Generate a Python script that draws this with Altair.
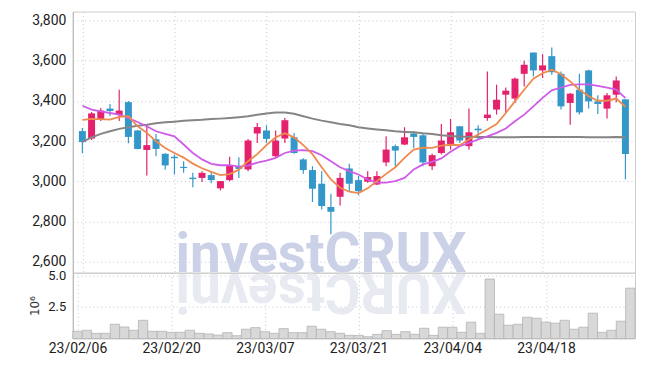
import altair as alt
import pandas as pd

# ---------------- data ----------------
dates = [
    "23/02/06", "23/02/07", "23/02/08", "23/02/09", "23/02/10",
    "23/02/13", "23/02/14", "23/02/15", "23/02/16", "23/02/17",
    "23/02/20", "23/02/21", "23/02/22", "23/02/23", "23/02/24",
    "23/02/27", "23/02/28", "23/03/02", "23/03/03", "23/03/06",
    "23/03/07", "23/03/08", "23/03/09", "23/03/10", "23/03/13",
    "23/03/14", "23/03/15", "23/03/16", "23/03/17", "23/03/20",
    "23/03/21", "23/03/22", "23/03/23", "23/03/24", "23/03/27",
    "23/03/28", "23/03/29", "23/03/30", "23/03/31", "23/04/03",
    "23/04/04", "23/04/05", "23/04/06", "23/04/07", "23/04/10",
    "23/04/11", "23/04/12", "23/04/13", "23/04/14", "23/04/17",
    "23/04/18", "23/04/19", "23/04/20", "23/04/21", "23/04/24",
    "23/04/25", "23/04/26", "23/04/27", "23/04/28", "23/05/02",
]
opens = [3250, 3213, 3307, 3362, 3330, 3394, 3253, 3156, 3209, 3137,
         3122, 3072, 3018, 3017, 3031, 2965, 3006, 3074, 3059, 3238,
         3253, 3125, 3213, 3219, 3109, 3056, 2988, 2872, 2923, 3064,
         3006, 2998, 2984, 3094, 3175, 3183, 3238, 3229, 3075, 3141,
         3180, 3274, 3175, 3262, 3315, 3357, 3431, 3412, 3535, 3641,
         3552, 3623, 3535, 3390, 3456, 3552, 3398, 3362, 3431, 3408]
highs = [3265, 3345, 3365, 3385, 3456, 3400, 3255, 3282, 3236, 3140,
         3133, 3100, 3042, 3050, 3050, 3001, 3122, 3120, 3210, 3290,
         3279, 3253, 3315, 3241, 3115, 3075, 3050, 2938, 3042, 3087,
         3026, 3050, 3050, 3224, 3183, 3269, 3249, 3235, 3137, 3285,
         3310, 3274, 3362, 3279, 3547, 3481, 3467, 3517, 3600, 3641,
         3633, 3666, 3547, 3440, 3535, 3555, 3428, 3440, 3522, 3408]
lows = [3140, 3205, 3300, 3325, 3300, 3190, 3160, 3029, 3125, 3059,
        3034, 3042, 2971, 2996, 2990, 2955, 3000, 3017, 3050, 3191,
        3191, 3117, 3191, 3137, 3037, 2897, 2860, 2736, 2880, 2951,
        2931, 2993, 2981, 3075, 3075, 3180, 3166, 3075, 3056, 3133,
        3158, 3191, 3158, 3208, 3302, 3332, 3340, 3390, 3472, 3522,
        3514, 3530, 3357, 3282, 3332, 3362, 3335, 3312, 3394, 3010]
closes = [3195, 3338, 3352, 3350, 3352, 3221, 3161, 3180, 3161, 3079,
          3115, 3066, 3011, 3042, 3006, 3001, 3080, 3062, 3203, 3270,
          3211, 3203, 3304, 3141, 3056, 2963, 2877, 2849, 3017, 2988,
          2951, 3021, 3026, 3158, 3153, 3219, 3221, 3094, 3130, 3203,
          3244, 3203, 3244, 3254, 3332, 3406, 3451, 3511, 3580, 3552,
          3577, 3543, 3373, 3436, 3343, 3398, 3385, 3428, 3502, 3136]
volumes = [0.57, 0.65, 0.41, 0.41, 1.13, 0.91, 0.65, 1.44, 0.57, 0.57,
           0.49, 0.49, 0.65, 0.41, 0.36, 0.27, 0.46, 0.22, 0.73, 0.86,
           0.54, 0.41, 0.78, 0.46, 0.46, 0.97, 0.73, 0.54, 0.41, 0.25,
           0.25, 0.14, 0.33, 0.62, 0.33, 0.54, 0.33, 0.81, 0.25, 0.89,
           0.89, 0.49, 1.29, 0.41, 4.70, 1.92, 1.05, 1.13, 1.68, 1.60,
           1.29, 1.21, 1.44, 0.73, 0.89, 2.00, 0.49, 0.65, 1.37, 3.98]
ma5 = [3306, 3311, 3309, 3307, 3321, 3324, 3274, 3241, 3199, 3166,
       3141, 3118, 3088, 3065, 3047, 3031, 3036, 3058, 3100, 3135,
       3180, 3219, 3239, 3219, 3180, 3135, 3070, 3009, 2968, 2948,
       2941, 2965, 3001, 3037, 3070, 3117, 3158, 3167, 3166, 3178,
       3182, 3180, 3208, 3233, 3258, 3285, 3340, 3398, 3456, 3511,
       3538, 3555, 3533, 3497, 3456, 3423, 3401, 3401, 3412, 3371]
ma10 = [3376, 3357, 3348, 3340, 3332, 3315, 3295, 3274, 3249, 3236,
        3224, 3183, 3141, 3109, 3087, 3080, 3080, 3073, 3078, 3093,
        3103, 3117, 3141, 3153, 3155, 3150, 3130, 3100, 3070, 3051,
        3034, 3009, 2993, 2993, 3001, 3017, 3059, 3084, 3097, 3114,
        3147, 3175, 3191, 3208, 3224, 3241, 3263, 3299, 3332, 3373,
        3415, 3453, 3467, 3480, 3482, 3482, 3475, 3466, 3456, 3414]
ma60 = [3196, 3219, 3236, 3249, 3261, 3269, 3277, 3282, 3289, 3294,
        3297, 3301, 3304, 3306, 3310, 3312, 3315, 3319, 3324, 3331,
        3338, 3343, 3343, 3336, 3324, 3312, 3302, 3294, 3285, 3279,
        3269, 3263, 3258, 3254, 3249, 3246, 3244, 3239, 3236, 3229,
        3226, 3223, 3221, 3221, 3220, 3219, 3219, 3219, 3220, 3220,
        3221, 3221, 3221, 3220, 3220, 3219, 3219, 3219, 3220, 3219]

tick_index = [0, 10, 20, 30, 40, 50]
price_ticks = [2600, 2800, 3000, 3200, 3400, 3600, 3800]
volume_ticks = [2.5, 5.0]
volume_title = "10⁶"
watermark = "investCRUX"

UP = "#e3216d"
DOWN = "#3497c9"

df = pd.DataFrame({
    "i": list(range(len(dates))), "date": dates,
    "open": opens, "high": highs, "low": lows, "close": closes,
    "vol": volumes, "ma5": ma5, "ma10": ma10, "ma60": ma60,
})

FONT = "Roboto"

x_scale = alt.Scale(domain=[-0.5, len(dates) - 0.5], nice=False, zero=False)
y_scale = alt.Scale(domain=[2545, 3845], nice=False, zero=False)
label_expr = "[" + ",".join("'" + d + "'" for d in dates) + "][datum.value]"

grid_axis_x = alt.Axis(values=tick_index, labels=False, ticks=False, domain=False,
                       title=None, grid=True, minExtent=0, maxExtent=0)

cond = alt.condition("datum.close >= datum.open", alt.value(UP), alt.value(DOWN))

base = alt.Chart(df).encode(x=alt.X("i:Q", scale=x_scale, axis=grid_axis_x))

wm = alt.Chart(pd.DataFrame({"t": [watermark]})).mark_text(
    font="Roboto", fontWeight="bold", fontSize=55, color="#cbd1e6",
    align="center", baseline="alphabetic"
).encode(text="t:N", x=alt.value(249), y=alt.value(261))

wick = base.mark_rule(strokeWidth=1.2).encode(
    y=alt.Y("low:Q", scale=y_scale,
            axis=alt.Axis(values=price_ticks, format=",d", title=None, ticks=False,
                          labelPadding=7, labelFontSize=14, grid=True)),
    y2="high:Q", color=cond)
body = base.mark_bar(size=7).encode(y="open:Q", y2="close:Q", color=cond)

line60 = base.mark_line(color="#858585", strokeWidth=2).encode(y="ma60:Q")
line10 = base.mark_line(color="#cf5ce9", strokeWidth=1.8).encode(y="ma10:Q")
line5 = base.mark_line(color="#ef8a4e", strokeWidth=1.8).encode(y="ma5:Q")

price = alt.layer(wm, wick, body, line60, line10, line5).properties(width=564, height=262)

refl = alt.Chart(pd.DataFrame({"t": [watermark[::-1]]})).mark_text(
    font="Roboto", fontWeight="bold", fontSize=55, color="#e8eaf2",
    align="center", baseline="alphabetic", angle=180
).encode(text="t:N", x=alt.value(249), y=alt.value(1))

vol = alt.Chart(df).transform_calculate(
    x0="datum.i - 0.5", x1="datum.i + 0.5", z="0"
).mark_bar(fill="#d8d8d8", stroke="#b4b4b4", strokeWidth=0.8).encode(
    x=alt.X("x0:Q", scale=x_scale,
            axis=alt.Axis(values=tick_index, labelExpr=label_expr, grid=True, ticks=False,
                          domain=False, title=None, labelPadding=3, labelFontSize=14)),
    x2="x1:Q",
    y=alt.Y("vol:Q", scale=alt.Scale(domain=[0, 5.2], nice=False),
            axis=alt.Axis(values=volume_ticks, format=".1f", title=volume_title,
                          ticks=False, labelPadding=7, labelFontSize=13,
                          titleFontSize=12, titleFontWeight="normal", titlePadding=6,
                          titleFont="DejaVu Sans", titleColor="#333")),
    y2="z:Q",
)
volume = alt.layer(refl, vol).properties(width=564, height=66)

chart = alt.vconcat(price, volume, spacing=0, bounds="flush").properties(
    padding={"left": 20, "top": 2, "right": 1, "bottom": 0}
).configure_view(stroke="#cccccc").configure_axis(
    gridColor="#c3c6dc", gridDash=[1, 3], gridWidth=1,
    labelFont=FONT, labelColor="#222222", domainColor="#b5b5b5",
)

chart.save("out.html", embed_options={"renderer": "svg", "actions": False})
